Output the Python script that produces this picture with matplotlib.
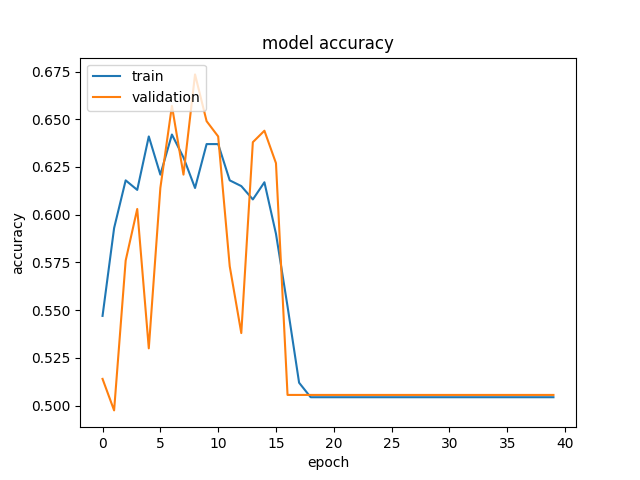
import matplotlib
matplotlib.use('Agg')
import matplotlib.pyplot as plt

# Historial de precisión por época
acc_train = [0.547, 0.593, 0.618, 0.613, 0.641, 0.621, 0.642, 0.630, 0.614, 0.637,
             0.637, 0.618, 0.615, 0.608, 0.617, 0.590, 0.552, 0.512, 0.5044, 0.5044]
acc_val = [0.514, 0.4975, 0.576, 0.603, 0.530, 0.614, 0.657, 0.621, 0.6735, 0.649,
           0.641, 0.573, 0.538, 0.638, 0.644, 0.627, 0.5056, 0.5056, 0.5056, 0.5056]
acc_train += [0.5044] * 20
acc_val += [0.5056] * 20

leyenda = ['train', 'validation']

plt.figure(figsize=(6.4, 4.8), dpi=100)
plt.plot(acc_train)
plt.plot(acc_val)
plt.title('model accuracy')
plt.ylabel('accuracy')
plt.xlabel('epoch')
plt.legend(leyenda, loc='upper left')
plt.savefig('out.png')
